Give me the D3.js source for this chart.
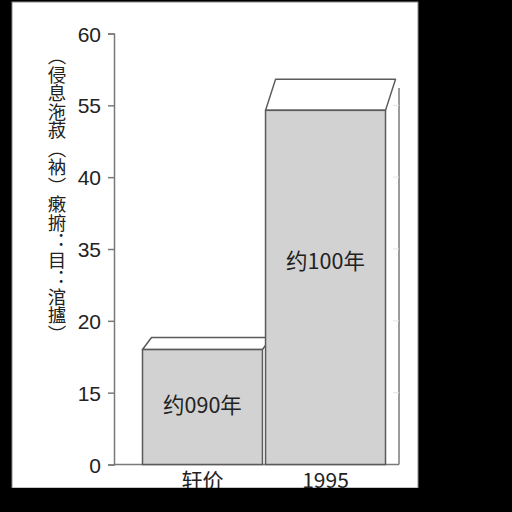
<!DOCTYPE html>
<html>
<head>
<meta charset="utf-8">
<script src="https://cdn.jsdelivr.net/npm/d3@7"></script>
<style>
  html, body { margin: 0; padding: 0; background: #000; }
  svg { display: block; }
</style>
</head>
<body>
<div id="chart"></div>
<script>
// data (values in axis units, 0..60 linear)
const categories = ["轩价", "1995"];
const values = [16.0, 49.3];
const barLabels = ["约090年", "约100年"];
const tickValues = [0, 10, 20, 30, 40, 50, 60];
const tickLabels = ["0", "15", "20", "35", "40", "55", "60"];
const yTitle = "（侵息沲菽（衲）瘷捬：目：涫攎）";

const width = 512, height = 512;
const svg = d3.select("#chart").append("svg")
    .attr("width", width)
    .attr("height", height)
    .attr("viewBox", [0, 0, width, height]);

// white panel on black
svg.append("rect")
    .attr("x", 12).attr("y", 2)
    .attr("width", 406).attr("height", 486)
    .attr("fill", "#fff")
    .attr("stroke", "#8a8a8a")
    .attr("stroke-width", 1);

const y = d3.scaleLinear().domain([0, 60]).range([464.5, 33.5]);
const x = d3.scaleBand()
    .domain(categories)
    .range([142.5, 385.5])
    .paddingInner(0.025)
    .paddingOuter(0);

const axisColor = "#7a7a7a";
const wallX = 399;

// back wall line with faint hash marks
svg.append("line")
    .attr("x1", wallX).attr("x2", wallX)
    .attr("y1", 88).attr("y2", y(0))
    .attr("stroke", axisColor).attr("stroke-width", 1.5);
svg.append("g")
    .selectAll("line")
    .data(tickValues.filter(t => t > 0 && t < 60))
    .join("line")
    .attr("x1", wallX - 6).attr("x2", wallX)
    .attr("y1", d => y(d)).attr("y2", d => y(d))
    .attr("stroke", "#e4e4e4").attr("stroke-width", 1);

// baseline
svg.append("line")
    .attr("x1", 114).attr("x2", wallX)
    .attr("y1", y(0)).attr("y2", y(0))
    .attr("stroke", axisColor).attr("stroke-width", 1.5);

// y axis
const yAxis = svg.append("g")
    .attr("transform", "translate(114,0)")
    .call(d3.axisLeft(y)
        .tickValues(tickValues)
        .tickFormat((d, i) => tickLabels[i])
        .tickSize(6)
        .tickPadding(7));
yAxis.select(".domain").attr("stroke", axisColor).attr("stroke-width", 1.5);
yAxis.selectAll(".tick line").attr("stroke", axisColor).attr("stroke-width", 1.5);
yAxis.selectAll(".tick text")
    .attr("fill", "#222")
    .attr("font-family", "'Liberation Sans', Arial, sans-serif")
    .attr("font-size", 21)
    .attr("dy", "0.36em");

// 3D bars: top face, then front face
const depthX = [9, 10];
const depthY = [12, 31];
const bars = svg.append("g")
    .selectAll("g")
    .data(values.map((v, i) => ({cat: categories[i], v, label: barLabels[i], i})))
    .join("g");

bars.append("path")
    .attr("d", d => {
        const x0 = x(d.cat), x1 = x0 + x.bandwidth(), t = y(d.v);
        const dx = depthX[d.i], dy = depthY[d.i];
        return `M${x0},${t}L${x0 + dx},${t - dy}L${x1 + dx},${t - dy}L${x1},${t}Z`;
    })
    .attr("fill", "#fff")
    .attr("stroke", "#5a5a5a")
    .attr("stroke-width", 1.5)
    .attr("stroke-linejoin", "round");

bars.append("rect")
    .attr("x", d => x(d.cat))
    .attr("y", d => y(d.v))
    .attr("width", x.bandwidth())
    .attr("height", d => y(0) - y(d.v))
    .attr("fill", "#d2d2d2")
    .attr("stroke", "#5a5a5a")
    .attr("stroke-width", 1.5);

bars.append("text")
    .attr("x", d => x(d.cat) + x.bandwidth() / 2)
    .attr("y", d => d.i === 0 ? 413 : 268.5)
    .attr("text-anchor", "middle")
    .attr("fill", "#222")
    .attr("font-family", "'Noto Sans CJK SC', 'Liberation Sans', sans-serif")
    .attr("font-size", 21.5)
    .text(d => d.label);

// category labels
svg.append("g")
    .selectAll("text")
    .data(categories)
    .join("text")
    .attr("x", d => x(d) + x.bandwidth() / 2)
    .attr("y", 488)
    .attr("text-anchor", "middle")
    .attr("fill", "#222")
    .attr("font-family", "'Noto Sans CJK SC', 'Liberation Sans', sans-serif")
    .attr("font-size", 21)
    .text(d => d);

// vertical y title
svg.append("text")
    .attr("x", 57)
    .attr("y", 47)
    .style("writing-mode", "vertical-rl")
    .style("text-orientation", "upright")
    .attr("fill", "#222")
    .attr("font-family", "'Noto Sans CJK SC', sans-serif")
    .attr("font-size", 18.5)
    .text(yTitle);

// black strip below the panel (labels are clipped by it in the original)
svg.append("rect")
    .attr("x", 0).attr("y", 488)
    .attr("width", width).attr("height", height - 488)
    .attr("fill", "#000");
</script>
</body>
</html>
